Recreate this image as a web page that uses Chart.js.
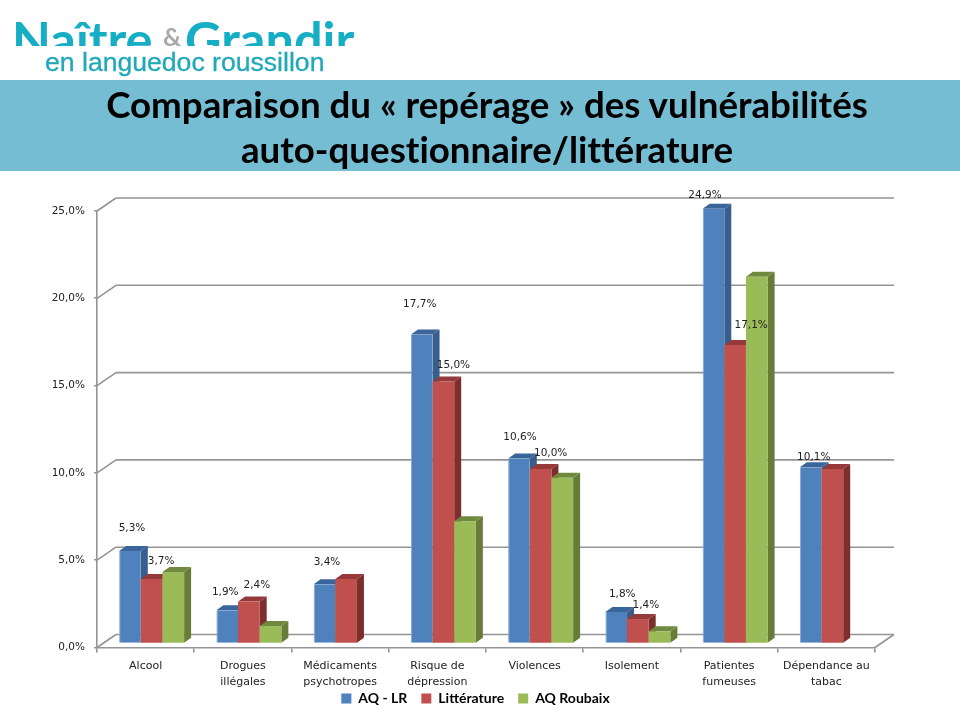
<!DOCTYPE html>
<html lang="fr">
<head>
<meta charset="utf-8">
<title>Comparaison du repérage</title>
<script src="https://cdn.jsdelivr.net/npm/chart.js@4/dist/chart.umd.min.js"></script>
<style>
html,body{margin:0;padding:0;background:#fff;width:960px;height:720px;overflow:hidden}
#c{position:absolute;left:0;top:0;display:block}
.logo{position:absolute;left:0;top:0;width:400px;height:46px;overflow:hidden;white-space:nowrap}
.logo span{position:absolute;top:11px;font:700 50.5px/56px Lato,sans-serif;color:#16aec4}
.logo .amp{font:700 25px/56px Lato,sans-serif;color:#a9a9a9;top:8px}
.sub{position:absolute;left:45px;top:48px;font:26.6px/29px "Liberation Sans",sans-serif;color:#1fa9ba;white-space:nowrap;-webkit-text-stroke:0.3px #1fa9ba}
.band{position:absolute;left:0;top:80px;width:960px;height:91px;background:#75BDD3}
.band div{position:absolute;left:7px;width:960px;text-align:center;font:700 36.7px/45px Lato,sans-serif;font-variant-ligatures:none;color:#000;white-space:nowrap}
</style>
</head>
<body>
<canvas id="c" width="960" height="720"></canvas>
<div class="logo"><span style="left:12px">Naître</span><span class="amp" style="left:163px">&amp;</span><span style="left:185px">Grandir</span></div>
<div class="sub">en languedoc roussillon</div>
<div class="band"><div style="top:2px">Comparaison du « repérage » des vulnérabilités</div><div style="top:47px">auto-questionnaire/littérature</div></div>
<script>
const categories = [
  "Alcool",
  ["Drogues", "illégales"],
  ["Médicaments", "psychotropes"],
  ["Risque de", "dépression"],
  "Violences",
  "Isolement",
  ["Patientes", "fumeuses"],
  ["Dépendance au", "tabac"]
];
const aqLr       = [5.3, 1.9, 3.4, 17.7, 10.6, 1.8, 24.9, 10.1];
const litterature= [3.7, 2.4, 3.7, 15.0, 10.0, 1.4, 17.1, 10.0];
const aqRoubaix  = [4.1, 1.0, null, 7.0, 9.5, 0.7, 21.0, null];

// where each value label sits relative to its bar top (null = no label)
const aqLrNudges = [[2,-23],[-2,-18],[2.5,-22],[-2,-30],[1,-21.6],[6,-18],[-8.5,-13],[3,-10]];
const litNudges  = [[9.5,-17.6],[8,-16],null,[10,-16],[10,-16],[8,-14],[16,-20],null];

const BAR_SHIFT = {x:6, y:-4};     // bars stand in the middle of the floor
const WALL = {x:19, y:-13};        // back wall offset
const DEPTH = {x:7, y:-5};         // visual depth of a bar
const AXIS = '#949494';
const faces = [
  {side:'#375E8C', top:'#3A659B'},
  {side:'#7D2F2D', top:'#96393A'},
  {side:'#677C39', top:'#6F8A3F'}
];
const fmt = v => v.toFixed(1).replace('.', ',') + '%';

function line(ctx, a, b, c, d){ ctx.beginPath(); ctx.moveTo(a,b); ctx.lineTo(c,d); ctx.stroke(); }

const threeD = {
  id:'threeD',
  afterLayout(chart){
    const lg = chart.legend;
    lg.left = 0;
    lg.right = 951;
    lg.top -= 17;
    lg.bottom -= 17;
  },
  beforeDatasetsDraw(chart){
    const {ctx, chartArea:ca, scales:{y}} = chart;
    ctx.save();
    ctx.strokeStyle = AXIS; ctx.lineWidth = 1.6;
    y.ticks.forEach(t => {
      const py = y.getPixelForValue(t.value);
      line(ctx, ca.left, py, ca.left + WALL.x, py + WALL.y);
      line(ctx, ca.left + WALL.x, py + WALL.y, ca.right + WALL.x, py + WALL.y);
    });
    line(ctx, ca.right, ca.bottom, ca.right + WALL.x, ca.bottom + WALL.y);
    ctx.translate(BAR_SHIFT.x, BAR_SHIFT.y);
    chart.data.datasets.forEach((ds, i) => {
      const meta = chart.getDatasetMeta(i);
      meta.data.forEach((bar, k) => {
        if (ds.data[k] == null) return;
        const l = bar.x - bar.width/2, r = bar.x + bar.width/2, t = bar.y, b = bar.base;
        ctx.fillStyle = faces[i].side;
        ctx.beginPath();
        ctx.moveTo(r,t); ctx.lineTo(r+DEPTH.x,t+DEPTH.y); ctx.lineTo(r+DEPTH.x,b+DEPTH.y); ctx.lineTo(r,b);
        ctx.closePath(); ctx.fill();
        ctx.fillStyle = faces[i].top;
        ctx.beginPath();
        ctx.moveTo(l,t); ctx.lineTo(l+DEPTH.x,t+DEPTH.y); ctx.lineTo(r+DEPTH.x,t+DEPTH.y); ctx.lineTo(r,t);
        ctx.closePath(); ctx.fill();
      });
      meta.controller.draw();
    });
    ctx.restore();
    return false;
  },
  afterDraw(chart){
    const {ctx} = chart;
    ctx.save();
    ctx.font = '10.5px "DejaVu Sans", sans-serif';
    ctx.fillStyle = '#222';
    ctx.textAlign = 'center'; ctx.textBaseline = 'middle';
    [[0, aqLrNudges],[1, litNudges]].forEach(([i, nudges]) => {
      const meta = chart.getDatasetMeta(i), ds = chart.data.datasets[i];
      meta.data.forEach((bar, k) => {
        const n = nudges[k];
        if (!n || ds.data[k] == null) return;
        ctx.fillText(fmt(ds.data[k]), bar.x + BAR_SHIFT.x + n[0], bar.y + BAR_SHIFT.y + n[1]);
      });
    });
    ctx.restore();
  }
};

new Chart(document.getElementById('c'), {
  type:'bar',
  data:{
    labels:categories,
    datasets:[
      {label:'AQ - LR', data:aqLr, backgroundColor:'#4F81BD', borderColor:'#86A9D6', borderWidth:{left:1,right:0,top:0,bottom:0}},
      {label:'Littérature', data:litterature, backgroundColor:'#C0504D', borderWidth:0},
      {label:'AQ Roubaix', data:aqRoubaix, backgroundColor:'#9BBB59', borderWidth:0}
    ]
  },
  plugins:[threeD],
  options:{
    responsive:false, animation:false, devicePixelRatio:1,
    layout:{padding:{top:211, right:85, left:0, bottom:-12.5}},
    datasets:{bar:{barPercentage:1, categoryPercentage:0.668}},
    scales:{
      x:{
        offset:true,
        afterFit(s){ s.height = 47; },
        grid:{display:true, offset:true, drawOnChartArea:false, drawTicks:true, tickLength:5, color:AXIS, lineWidth:1.6},
        border:{display:true, color:AXIS, width:1.6},
        ticks:{autoSkip:false, maxRotation:0, minRotation:0, padding:6, color:'#222',
               font:{family:'"DejaVu Sans", sans-serif', size:11, lineHeight:1.45}}
      },
      y:{
        min:0, max:25,
        afterFit(s){ s.width = 97; },
        grid:{display:true, drawOnChartArea:false, drawTicks:true, tickLength:3, color:AXIS, lineWidth:1.6},
        border:{display:true, color:AXIS, width:1.6},
        ticks:{stepSize:5, padding:9, color:'#222', callback:v => fmt(v),
               font:{family:'"DejaVu Sans", sans-serif', size:10.5}}
      }
    },
    plugins:{
      title:{display:false},
      tooltip:{enabled:false},
      legend:{
        display:true, position:'bottom',
        labels:{boxWidth:10, boxHeight:10, padding:14, color:'#000',
                font:{family:'Lato, sans-serif', size:14, weight:'700'}}
      }
    }
  }
});
</script>
</body>
</html>
